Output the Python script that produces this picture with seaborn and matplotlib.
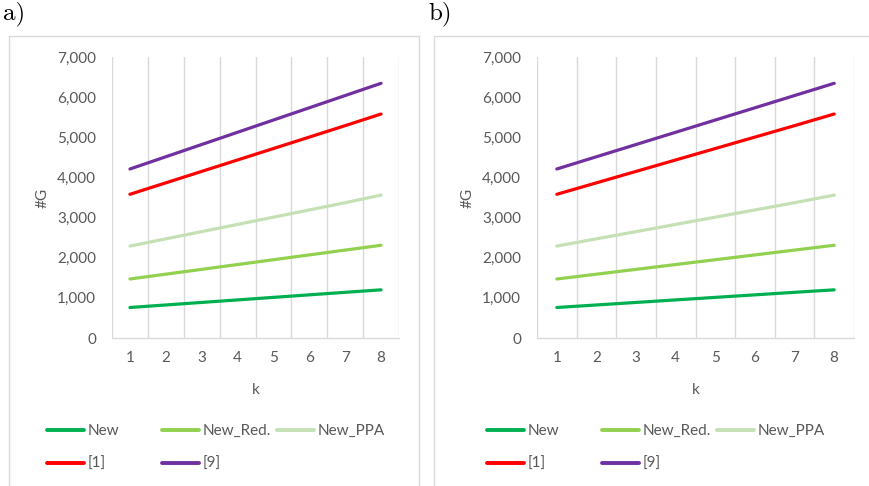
import pandas as pd
import numpy as np
import matplotlib
matplotlib.use('Agg')
import matplotlib.pyplot as plt
import seaborn as sns
from matplotlib.ticker import StrMethodFormatter, FixedLocator
from matplotlib.patches import Rectangle
from matplotlib.lines import Line2D

# ---------------------------------------------
# Datos
# ---------------------------------------------
k_vals = [1, 2, 3, 4, 5, 6, 7, 8]
g_new = [760, 823, 886, 949, 1012, 1075, 1138, 1200]
g_new_red = [1470, 1590, 1710, 1830, 1950, 2070, 2190, 2310]
g_new_ppa = [2290, 2470, 2650, 2830, 3010, 3190, 3370, 3560]
g_ref1 = [3580, 3865, 4150, 4435, 4720, 5005, 5290, 5580]
g_ref9 = [4210, 4515, 4820, 5125, 5430, 5735, 6040, 6345]

series_names = ['New', 'New_Red.', 'New_PPA', '[1]', '[9]']
series_vals = [g_new, g_new_red, g_new_ppa, g_ref1, g_ref9]
colores = ['#00B050', '#92D050', '#C5E0B4', '#FF0000', '#7030A0']
palette = dict(zip(series_names, colores))

df = pd.DataFrame({
    'k': k_vals * len(series_names),
    'G': sum(series_vals, []),
    'serie': [s for s in series_names for _ in k_vals],
})

# ---------------------------------------------
# Estilo
# ---------------------------------------------
sns.set_style('white')
plt.rcParams['font.family'] = ['Lato', 'DejaVu Sans']
gris_txt = '#595959'
gris_lin = '#D9D9D9'

W, H = 869, 486
fig = plt.figure(figsize=(W / 100, H / 100), dpi=100)


def px_rect(x0, y0, x1, y1):
    return [x0 / W, (H - y1) / H, (x1 - x0) / W, (y1 - y0) / H]


# panel: (borde, area de grafico, x de la etiqueta del eje y, columnas de leyenda, etiqueta)
panels = [
    ((9, 36, 419, 490), (112, 57, 399, 338), 43, (47, 162, 277), (3, 'a)')),
    ((434, 36, 875, 490), (537, 57, 854, 338), 468, (487, 602, 717), (428, 'b)')),
]

for borde, area, ylab_x, leg_x, (lab_x, lab) in panels:
    fig.patches.append(Rectangle((borde[0] / W, (H - borde[3]) / H),
                                 (borde[2] - borde[0]) / W, (borde[3] - borde[1]) / H,
                                 transform=fig.transFigure, fill=False,
                                 edgecolor=gris_lin, linewidth=1.0))
    fig.text(lab_x / W, (H - 14) / H, lab, family=['cmr10', 'DejaVu Serif'],
             fontsize=18, va='center', ha='left', color='black')

    ax = fig.add_axes(px_rect(*area))
    sns.lineplot(data=df, x='k', y='G', hue='serie', palette=palette,
                 linewidth=2.3, ax=ax, legend=False)

    ax.set_xlim(0.5, 8.5)
    ax.set_ylim(0, 7000)
    ax.xaxis.set_major_locator(FixedLocator(k_vals))
    ax.xaxis.set_minor_locator(FixedLocator([x + 0.5 for x in range(0, 9)]))
    ax.yaxis.set_major_locator(FixedLocator(range(0, 7001, 1000)))
    ax.yaxis.set_major_formatter(StrMethodFormatter('{x:,.0f}'))
    ax.grid(False)
    ax.grid(True, which='minor', axis='x', color=gris_lin, linewidth=1.0)
    ax.set_axisbelow(True)
    for s in ['left', 'right', 'top']:
        ax.spines[s].set_visible(False)
    ax.spines['bottom'].set_color(gris_lin)
    ax.spines['bottom'].set_linewidth(1.0)
    ax.tick_params(axis='both', which='both', length=0, labelsize=11, labelcolor=gris_txt)
    ax.tick_params(axis='y', pad=11.5)
    ax.tick_params(axis='x', pad=9)
    ax.set_xlabel('k', fontsize=11, color=gris_txt)
    ax.set_ylabel('#G', fontsize=11, color=gris_txt)
    ancho = area[2] - area[0]
    alto = area[3] - area[1]
    ax.xaxis.set_label_coords(0.5, (area[3] - 383) / alto)
    ax.yaxis.set_label_coords((ylab_x - area[0]) / ancho, 0.5)
    ax.yaxis.label.set_va('center')

    # Leyenda en columnas de ancho fijo (estilo Excel)
    columnas = [['New', '[1]'], ['New_Red.', '[9]'], ['New_PPA']]
    for x0, nombres in zip(leg_x, columnas):
        handles = [Line2D([], [], color=palette[n], linewidth=2.8) for n in nombres]
        fig.legend(handles, nombres, loc='upper left',
                   bbox_to_anchor=(x0 / W, (H - 424) / H),
                   frameon=False, fontsize=11, labelcolor=gris_txt,
                   handlelength=2.45, handletextpad=0.2, labelspacing=1.25,
                   borderpad=0, borderaxespad=0)

plt.savefig('out.png', dpi=100)
